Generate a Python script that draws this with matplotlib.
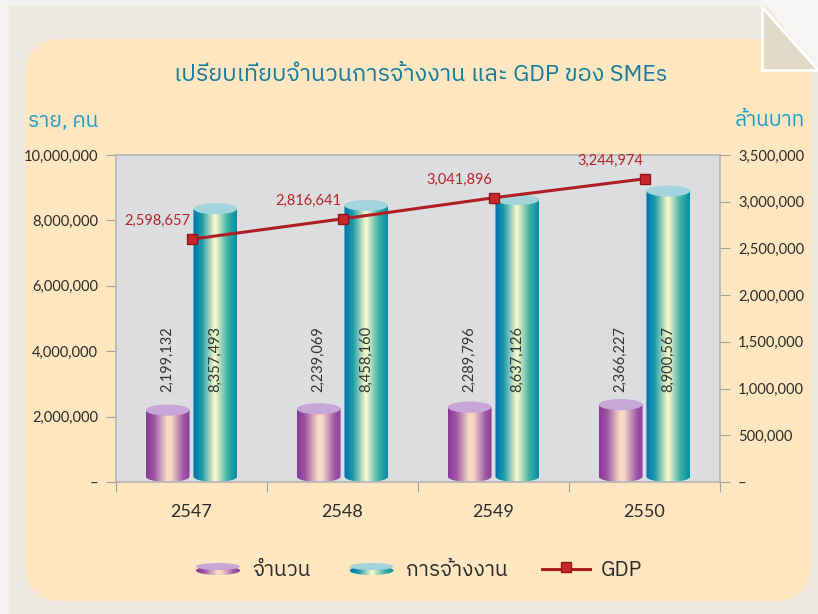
import numpy as np
import matplotlib
matplotlib.use("Agg")
import matplotlib.pyplot as plt
from matplotlib import font_manager
from matplotlib.ft2font import FT2Font
from matplotlib.colors import LinearSegmentedColormap
from matplotlib.patches import Ellipse, FancyBboxPatch, PathPatch, Polygon
from matplotlib.path import Path
from matplotlib.ticker import FuncFormatter, FixedLocator

years = ["2547", "2548", "2549", "2550"]
count = [2199132, 2239069, 2289796, 2366227]
employment = [8357493, 8458160, 8637126, 8900567]
gdp = [2598657, 2816641, 3041896, 3244974]

title = "เปรียบเทียบจำนวนการจ้างงาน และ GDP ของ SMEs"
left_unit = "ราย, คน"
right_unit = "ล้านบาท"
legend_names = ["จำนวน", "การจ้างงาน", "GDP"]


# find a font that really has Thai glyphs
def thai_fonts():
    found = []
    for f in font_manager.fontManager.ttflist:
        try:
            if FT2Font(f.fname).get_char_index(0x0E01) and f.name not in found:
                found.append(f.name)
        except Exception:
            pass
    return found

found = thai_fonts()
thai_font = "IBM Plex Sans Thai" if "IBM Plex Sans Thai" in found else (found + ["DejaVu Sans"])[0]
num_font = "Lato"
thai_family = [thai_font, num_font, "DejaVu Sans"]
plt.rcParams["font.family"] = [num_font, "DejaVu Sans"]

purple = LinearSegmentedColormap.from_list("purple", [
    (0.0, "#873896"), (0.18, "#9D55A6"), (0.48, "#F8DAC5"),
    (0.58, "#F6D6C3"), (0.85, "#A15BA8"), (1.0, "#8A3A97")])
teal = LinearSegmentedColormap.from_list("teal", [
    (0.0, "#0070AE"), (0.2, "#1A9BA9"), (0.5, "#FFFBCB"),
    (0.78, "#43B2A8"), (1.0, "#008E9F")])
purple_cap = "#C7A6D8"
teal_cap = "#A3D4DC"

W, H = 818, 614
fig = plt.figure(figsize=(W / 100, H / 100), dpi=100)
fig.patch.set_facecolor("#F2F2F3")

# background, page and folded corner, drawn in pixel coords
bg = fig.add_axes([0, 0, 1, 1], zorder=0)
bg.set_axis_off()
bg.add_patch(plt.Rectangle((9, 6), W, H, fc="#EFEAE0", ec="none"))
bg.add_patch(FancyBboxPatch((60, 74), 716, 492,
                            boxstyle="round,pad=35,rounding_size=38",
                            fc="#FEE6C0", ec="none"))
bg.add_patch(Polygon([(762, 0), (W, 0), (W, 70)], closed=True, fc="#F6F5F4", ec="none"))
bg.add_patch(Polygon([(762, 7), (762, 70), (W, 70)], closed=True,
                     fc="#E2D9C8", ec="white", lw=2))

bg.text(421, 75, title, family=thai_family, fontsize=16.8, color="#137C9C",
        ha="center", va="center")
bg.text(28, 121, left_unit, family=thai_family, fontsize=15, color="#1F9DCB",
        ha="left", va="center")
bg.text(805, 121, right_unit, family=thai_family, fontsize=15, color="#1F9DCB",
        ha="right", va="center")

# legend
grad = np.linspace(0, 1, 256).reshape(1, -1)
for cx, cmap, cap in [(218, purple, purple_cap), (371.5, teal, teal_cap)]:
    body = Ellipse((cx, 570.5), 44, 9, fc="none", ec="none", zorder=2)
    bg.add_patch(body)
    im = bg.imshow(grad, cmap=cmap, extent=(cx - 22, cx + 22, 576, 565),
                   aspect="auto", zorder=2)
    im.set_clip_path(body)
    bg.add_patch(Ellipse((cx, 566.5), 44, 7, fc=cap, ec="none", zorder=3))
bg.plot([542, 590], [569, 569], color="#B01E23", lw=2.2, zorder=3)
bg.plot([566], [567], marker="s", ms=7, mfc="#C8282C", mec="#8E1519", zorder=4)
for x, name in zip([252, 406, 601], legend_names):
    bg.text(x, 570, name, family=thai_family, fontsize=15, color="#2B2B2B",
            ha="left", va="center")
bg.set_xlim(0, W)
bg.set_ylim(H, 0)

# main chart
ax = fig.add_axes([116 / W, 1 - 482 / H, (720 - 116) / W, (482 - 155) / H], zorder=2)
ax.set_facecolor("#DCDDDF")
x = np.arange(len(years))
w = 0.29
cap_h = 0.034 * 10e6

bars1 = ax.bar(x - 0.158, count, w, color="none")
bars2 = ax.bar(x + 0.158, employment, w, color="none")


def cylinder(bar, cmap, cap_color):
    x0, bw, top = bar.get_x(), bar.get_width(), bar.get_height()
    cx = x0 + bw / 2
    t = np.linspace(np.pi, 2 * np.pi, 40)
    verts = [(x0, top)] + list(zip(cx + bw / 2 * np.cos(t), cap_h / 2 + cap_h / 2 * np.sin(t)))
    verts += [(x0 + bw, top), (x0, top)]
    codes = [Path.MOVETO] + [Path.LINETO] * (len(verts) - 2) + [Path.CLOSEPOLY]
    shape = PathPatch(Path(verts, codes), fc="none", ec="none")
    ax.add_patch(shape)
    im = ax.imshow(grad, cmap=cmap, extent=(x0, x0 + bw, 0, top), aspect="auto", zorder=2)
    im.set_clip_path(shape)
    ax.add_patch(Ellipse((cx, top), bw, cap_h, fc=cap_color, ec="none", zorder=3))


for b in bars1:
    cylinder(b, purple, purple_cap)
for b in bars2:
    cylinder(b, teal, teal_cap)

for bars, vals in [(bars1, count), (bars2, employment)]:
    for b, v in zip(bars, vals):
        ax.text(b.get_x() + b.get_width() / 2, 2.75e6, f"{v:,}", rotation=90,
                ha="center", va="bottom", fontsize=10.5, color="#333333", zorder=4)

ax.set_xlim(-0.5, len(years) - 0.5)
ax.set_ylim(0, 10e6)
ax.yaxis.set_major_locator(FixedLocator(np.arange(0, 10e6 + 1, 2e6)))
fmt = FuncFormatter(lambda v, p: "–" if v == 0 else f"{v:,.0f}")
ax.yaxis.set_major_formatter(fmt)
ax.xaxis.set_major_locator(FixedLocator(np.arange(-0.5, len(years), 1)))
ax.xaxis.set_major_formatter(FuncFormatter(lambda v, p: ""))
ax.xaxis.set_minor_locator(FixedLocator(x))
ax.set_xticklabels(years, minor=True)
ax.tick_params(axis="x", which="minor", length=0, pad=16, labelsize=13, labelcolor="#2B2B2B")
ax.tick_params(axis="x", which="major", length=7, color="#A0A0A0")
ax.tick_params(axis="y", length=7, color="#A0A0A0", labelsize=10.5, labelcolor="#2B2B2B", pad=6)
for s in ax.spines.values():
    s.set_color("#B4B4B4")
    s.set_linewidth(1.2)

ax2 = ax.twinx()
ax2.plot(x, gdp, color="#B01E23", lw=2.2, marker="s", ms=7.5, mfc="#C8282C", mec="#8E1519", zorder=5)
for xi, v in zip(x, gdp):
    ax2.annotate(f"{v:,}", (xi, v), xytext=(-1, 13), textcoords="offset points",
                 ha="right", va="center", fontsize=10.5, color="#B3242A")
ax2.set_ylim(0, 3.5e6)
ax2.yaxis.set_major_locator(FixedLocator(np.arange(0, 3.5e6 + 1, 5e5)))
ax2.yaxis.set_major_formatter(fmt)
ax2.tick_params(axis="y", length=7, color="#A0A0A0", labelsize=10.5, labelcolor="#2B2B2B", pad=6)
for s in ax2.spines.values():
    s.set_visible(False)

fig.savefig("out.png", dpi=100)
